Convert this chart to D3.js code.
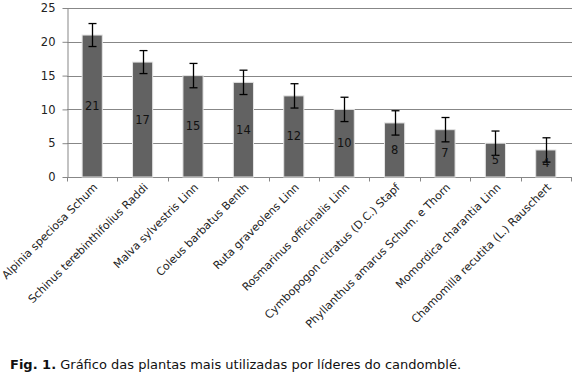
<!DOCTYPE html>
<html><head><meta charset="utf-8">
<script src="https://cdn.jsdelivr.net/npm/d3@7"></script>
<style>body{margin:0;background:#fff;}svg{display:block;font-family:"DejaVu Sans",Verdana,sans-serif;}</style>
</head><body>
<svg id="c" width="574" height="382"></svg>
<script>
const categories = ["Alpinia speciosa Schum","Schinus terebinthifolius Raddi","Malva sylvestris Linn","Coleus barbatus Benth","Ruta graveolens Linn","Rosmarinus officinalis Linn","Cymbopogon citratus (D.C.) Stapf","Phyllanthus amarus Schum. e Thorn","Momordica charantia Linn","Chamomilla recutita (L.) Rauschert"];
const values = [21,17,15,14,12,10,8,7,5,4];
const errors = [1.7,1.7,1.8,1.8,1.8,1.8,1.8,1.8,1.8,1.8];
const yTicks = [0,5,10,15,20,25];

(function(){
const svg = d3.select("#c");
const mLeft = 67, mRight = 571, mTop = 8, mBottom = 177;
const x = d3.scaleBand().domain(categories).range([mLeft, mRight]).paddingInner(0.6).paddingOuter(0.3);
const y = d3.scaleLinear().domain([0,25]).range([mBottom, mTop]);

// gridlines
svg.append("g").selectAll("line").data(yTicks.filter(d=>d>0)).join("line")
  .attr("x1", mLeft).attr("x2", mRight+1).attr("y1", d=>Math.round(y(d))+0.5).attr("y2", d=>Math.round(y(d))+0.5)
  .attr("stroke", "#878787").attr("stroke-width", 1);

// y axis
const ya = svg.append("g").attr("transform", `translate(${mLeft+0.5},0)`)
  .call(d3.axisLeft(y).tickValues(yTicks).tickSize(5).tickSizeOuter(0).tickPadding(7));
ya.select(".domain").attr("stroke", "#878787");
ya.selectAll(".tick line").attr("stroke", "#878787");
ya.selectAll(".tick text").attr("fill", "#222").style("font-size", "11.5px").style("font-family", "DejaVu Sans, Verdana, sans-serif");

// x axis (ticks at band boundaries)
const xa = svg.append("g").attr("transform", `translate(0,${Math.round(mBottom)+0.5})`);
xa.append("line").attr("x1", mLeft).attr("x2", mRight+1).attr("stroke", "#878787");
const step = x.step();
const tickXs = categories.map((c,i)=> mLeft + i*step).concat([mRight]);
xa.selectAll("line.t").data(tickXs).join("line").attr("class","t")
  .attr("x1", d=>Math.round(d)+0.5).attr("x2", d=>Math.round(d)+0.5).attr("y1", 0).attr("y2", 4).attr("stroke", "#878787");

// bars
svg.append("g").selectAll("rect").data(values).join("rect")
  .attr("x", (d,i)=>x(categories[i])).attr("width", x.bandwidth())
  .attr("y", d=>y(d)).attr("height", d=>mBottom - y(d))
  .attr("fill", "#626262").attr("stroke", "#e4e4e4").attr("stroke-width", 1);

// error bars
const eb = svg.append("g").attr("stroke", "#000").attr("stroke-width", 1.3);
values.forEach((v,i)=>{
  const cx = Math.round(x(categories[i]) + x.bandwidth()/2) + 0.5;
  eb.append("line").attr("x1", cx).attr("x2", cx).attr("y1", y(v+errors[i])).attr("y2", y(v-errors[i]));
  eb.append("line").attr("x1", cx-4).attr("x2", cx+4).attr("y1", y(v+errors[i])).attr("y2", y(v+errors[i]));
  eb.append("line").attr("x1", cx-4).attr("x2", cx+4).attr("y1", y(v-errors[i])).attr("y2", y(v-errors[i]));
});

// value labels
svg.append("g").selectAll("text").data(values).join("text")
  .attr("x", (d,i)=>x(categories[i]) + x.bandwidth()/2)
  .attr("y", d=>(y(d)+mBottom)/2 + 4)
  .attr("text-anchor", "middle").attr("fill", "#111").style("font-size", "11.5px")
  .text(d=>d);

// category labels
svg.append("g").selectAll("text").data(categories).join("text")
  .attr("transform", d=>`translate(${x(d)+x.bandwidth()/2+6},${mBottom+11}) rotate(-45)`)
  .attr("text-anchor", "end").attr("fill", "#222").style("font-size", "11px")
  .text(d=>d);

// caption
const cap = svg.append("text").attr("x", 10).attr("y", 369).attr("fill", "#111").style("font-size", "13px");
cap.append("tspan").attr("font-weight", "bold").text("Fig. 1.");
cap.append("tspan").text(" Gráfico das plantas mais utilizadas por líderes do candomblé.");
})();
</script>
</body></html>
